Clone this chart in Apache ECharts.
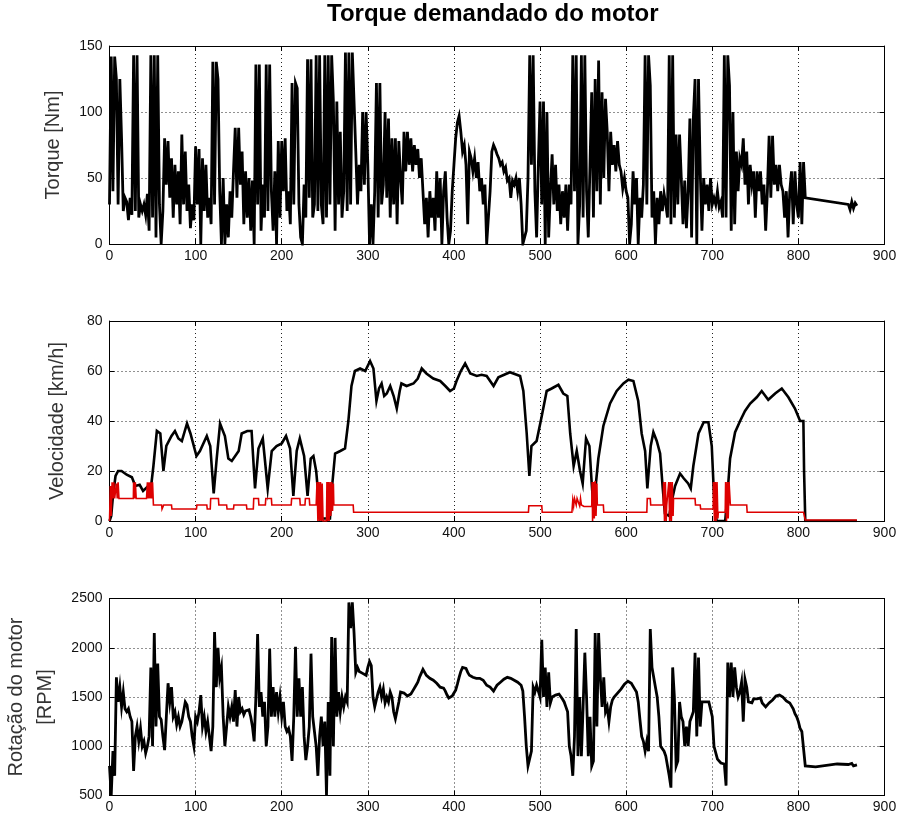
<!DOCTYPE html>
<html>
<head>
<meta charset="utf-8">
<script src="https://cdn.jsdelivr.net/npm/echarts@6.0.0/dist/echarts.min.js"></script>
<style>
html,body{margin:0;padding:0;background:#fff;}
#c{width:900px;height:820px;}
</style>
</head>
<body>
<div id="c"></div>
<script>
// ---------------- DATA ----------------
const STEP = 2; // seconds between samples of the main torque / rpm records
const xTicks = [0, 100, 200, 300, 400, 500, 600, 700, 800, 900];
const torqueTicks = [0, 50, 100, 150];
const velTicks = [0, 20, 40, 60, 80];
const rpmTicks = [500, 1000, 1500, 2000, 2500];

// Torque [Nm], t = 0..808 s every 2 s
const torqueMain = [
  30,142,40,142,125,30,125,80,25,35,
  32,18,35,22,143,25,143,20,30,25,
  30,22,38,10,143,20,143,5,143,30,
  0,25,80,45,78,35,65,20,60,30,
  55,15,83,30,70,25,45,12,30,18,
  74,30,72,0,65,25,60,20,35,15,
  138,30,138,125,40,0,50,0,30,5,
  40,20,55,88,35,88,45,70,15,55,
  20,50,10,48,0,136,30,136,10,45,
  20,136,25,136,40,10,55,0,78,20,
  78,40,80,25,40,15,122,30,122,118,
  30,5,0,45,20,140,35,140,20,30,
  143,25,143,30,15,143,20,143,30,143,
  108,10,108,30,85,20,40,145,25,145,
  30,145,145,70,30,60,40,100,45,100,
  60,0,30,0,40,122,20,122,30,45,
  100,35,95,20,80,30,80,15,78,50,
  30,85,55,85,60,80,55,75,60,72,
  50,65,40,15,35,5,40,20,35,10,
  55,20,50,0,40,55,20,0,10,40,
  60,80,92,97,85,70,75,60,15,70,
  65,55,65,50,62,40,50,30,45,0,
  0,40,70,75,72,68,65,60,62,55,
  58,48,50,35,48,45,50,40,50,30,
  0,0,10,50,143,60,143,40,5,60,
  108,30,108,0,100,5,40,68,30,60,
  25,45,15,40,20,45,10,45,30,143,
  40,143,0,30,143,20,143,40,5,60,
  115,20,125,40,139,30,115,50,110,85,
  40,85,60,75,55,78,60,55,42,50,
  40,35,0,15,55,30,50,0,35,20,
  45,143,30,143,120,20,40,0,35,15,
  40,25,38,30,20,143,15,143,20,83,
  30,83,50,15,48,12,40,95,5,95,
  125,0,125,55,10,50,30,45,25,50,
  30,35,30,40,28,32,20,143,20,143,
  120,10,100,15,70,40,65,60,80,45,
  70,30,60,45,55,20,55,40,55,30,
  45,10,40,82,35,82,45,60,40,60,
  45,40,20,40,5,40,55,15,55,30,
  20,62,15,62,35
];
const torqueTailT = [810, 858, 860, 862, 864, 866, 868];
const torqueTailV = [35, 30, 26, 32, 27, 31, 29];

// Velocity [km/h] (black) as [t, v]
const velocity = [
  [0,0],[2,2],[4,10],[7,18],[10,20],[14,20],[20,18.5],[26,17.5],[30,14],[35,14.5],
  [39,12],[45,14],[48,13],[51,22],[55,36],[59,35],[62.6,20],[66,30],[72,34],[76,36],
  [80,33],[84,32],[90,39],[94,35],[101,26],[105,28],[113,34],[117,30],[121,11],[124.5,25],
  [128.4,39],[134,34],[138,25],[142,24],[150,28],[153.5,35],[160,36],[165,36],[169,13],[173,29],
  [178,33],[180.6,24],[183.7,13],[188.4,28],[194,30],[200,31],[205,34],[209.7,29],[213.5,10],[217.4,28],
  [221,33],[226,26],[230,10],[233.7,25],[236.8,26],[240,20],[242.6,10],[244.5,1],[256,1],[258,12],
  [262,27],[268,28],[273.5,29],[277.4,40],[281,54],[285,60],[291,61],[297,60],[302.6,64],[306.5,61],
  [310,48],[313,53],[316,55],[319,50],[322,51],[326,54],[330,50],[333.6,45],[337,52],[339,55],
  [345,54],[353,55],[358,57],[362.6,61],[368,59],[376,57],[384,56],[390,54],[395.5,52],[400,53],
  [403,56],[408,60],[413,63],[419,59],[426.5,58],[432,58.5],[438,58],[446,54],[451.6,57.5],[465,59.5],
  [476.8,58],[480.6,52],[484.5,35],[487.6,18],[490,30],[496,32],[502,42],[507.7,52],[513.5,53],[521.3,54.5],
  [527,51],[531.7,50],[535,35],[539,22],[542.6,28],[546.4,20],[549.5,15],[553.4,33],[557.3,30],[560,15],
  [562,5],[564,12],[567.7,25],[573.5,38],[581.3,47],[589,52],[596.8,55],[602.6,56.5],[608.4,56],[614,48],
  [618,35],[622,28],[624.6,13],[628.5,30],[631.6,35.5],[635.5,32],[639.4,27],[642.5,13],[645,3],[650,2],
  [653,8],[656.8,14],[662.6,19],[667,17],[672,15],[675,13],[678,22],[684,35],[690,39.5],[695.5,39.5],
  [699.4,30],[702,10],[705,0],[715,0],[717.5,10],[720.7,25],[726.5,35.5],[732.3,40],[738,44],[744,47],
  [751.6,49.5],[757.4,52],[765,48.5],[773,51],[780.7,53],[788.4,49.5],[796,45],[802,40],[805.8,40],[806.6,20],
  [808,0],[868,0]
];

// Second trace (red) as [t, v]
const redTrace = [
  [0,0],[1,14],[2,2],[3,15.5],[4,9],[5,15.5],[6,9],[8,15],[9,9],[10,15.5],[11,9],
  [27.7,9],[28,15.5],[29,9],[30,15.5],[31,9],[43,9],[44,15.5],[45,9],[46,15.5],[47,9],[48,15.5],[49,9],[50,15.5],[51,6.4],
  [60.6,6.4],[61,4.8],[62.6,4.8],[63,6.4],[72,6.4],[72.5,4.8],[101,4.8],[101.5,6.4],[113,6.4],[113.5,4.8],
  [117,4.8],[117.5,9],[126.5,9],[127,6.4],[136,6.4],[136.5,4.8],[144,4.8],[144.5,6.4],[159,6.4],[159.5,4.8],
  [167,4.8],[167.5,9],[173,9],[173.5,6.4],[181,6.4],[181.5,9],[188,9],[188.5,6.4],[211,6.4],[211.5,9],
  [221,9],[221.5,6.4],[227,6.4],[227.5,9],[232,9],[232.5,6.4],[240,6.4],
  [241,15.6],[242,0],[243,15.6],[244,0],[245,15.6],[246,0],[247,15],[248,0],[252,0],
  [252.5,15.6],[253,0],[254,15.6],[255,0],[256,15.6],[257,2],[258,15.6],[259,4],[260,15],[260.5,6.4],
  [283,6.4],[283.5,3.5],[486.5,3.5],[487,6.1],[502,6.1],[502.5,3.5],[537,3.5],
  [538,8.4],[539,6],[540,9],[542,6.4],[543,9],[545,8.4],[546,6],[547,9],[548,6.4],[550,6.4],[551,5.8],[560,5.8],
  [560.5,15.6],[561,0],[562,15.6],[563,1],[564,16],[565,2],[566,15],[566.5,6.4],[573.5,6.4],[574,3.5],
  [624,3.5],[624.5,9],[628,9],[628.5,6.4],[643,6.4],
  [643.5,15.6],[644.5,0],[645.5,15.6],[646.5,0],[647,6],[649,6],[649.5,15.6],[650.5,0],[651.5,15.6],[652.5,0],[653.5,15.6],[654.5,2],
  [655,9],[680,9],[680.5,6.4],[686,6.4],[686.5,4.8],[701,4.8],
  [701.5,15.6],[702.5,0],[703.5,15.6],[704.5,0],[705.5,15.6],[706.5,1],[707,3.5],[715,3.5],
  [715.5,15.6],[716.5,0],[717.5,15.6],[718.5,1],[719.5,15.6],[721,6.4],[740,6.4],[740.5,3.5],
  [806,3.5],[808,0.4],[868,0.4]
];

// Engine speed [RPM], t = 0..808 s every 2 s
const rpmMain = [
  800,500,950,700,1700,1450,1600,1400,1550,1380,
  1350,1380,1300,1250,750,1100,1200,1050,1180,1000,
  1050,930,1000,1100,1800,1000,2150,1200,1840,1300,
  1270,1100,960,1300,1640,1450,1600,1300,1350,1220,
  1300,1200,1250,1350,1450,1420,1300,1250,1100,1000,
  1300,1250,1350,1520,1200,1300,1150,1250,1100,950,
  1200,2160,1600,2000,1700,1800,1300,1000,1200,1400,
  1300,1400,1250,1570,1200,1500,1350,1380,1320,1360,
  1350,1370,1300,1200,1050,1500,2140,1400,1550,1300,
  1450,1000,1200,1990,1300,1600,1300,1550,1350,1500,
  1300,1450,1200,1150,1180,1100,850,1300,2010,1300,
  1690,1300,1600,1100,860,1000,1200,1940,1300,1150,
  1000,700,1100,1300,1000,1250,500,1450,700,2110,
  1000,2100,1300,1550,1350,1500,1400,1500,1450,2460,
  2200,2460,2150,1750,1800,1760,1780,1740,1760,1720,
  1800,1860,1820,1500,1400,1420,1550,1600,1500,1580,
  1440,1500,1450,1550,1500,1350,1280,1300,1450,1550,
  1560,1540,1530,1510,1520,1530,1560,1580,1620,1650,
  1700,1740,1780,1760,1720,1700,1690,1680,1670,1660,
  1640,1620,1600,1610,1590,1560,1520,1490,1480,1510,
  1540,1570,1630,1700,1760,1800,1814,1790,1750,1720,
  1720,1700,1710,1690,1700,1690,1680,1670,1650,1620,
  1600,1600,1580,1560,1590,1620,1640,1650,1670,1680,
  1690,1700,1700,1690,1680,1670,1660,1650,1640,1620,
  1560,1300,1000,800,780,950,1600,1550,1620,1600,
  1500,2080,1500,1800,1400,1750,1440,1500,1480,1520,
  1540,1530,1510,1480,1450,1400,1350,1000,900,700,
  1100,2190,900,1500,900,1400,1950,1500,900,1300,
  800,850,2150,1200,2150,1700,1400,1700,1350,1400,
  1250,1400,1470,1500,1520,1540,1560,1580,1600,1630,
  1650,1660,1650,1640,1620,1580,1550,1450,1270,1100,
  1050,950,1050,950,2190,1800,1820,1600,1500,1300,
  1000,980,950,900,880,700,580,1800,1500,800,
  850,1450,1300,1250,1000,1200,1000,1250,1300,1350,
  1950,1100,1900,1200,1450,1460,1450,1440,1450,1430,
  1300,1000,1000,870,850,830,850,820,600,1850,
  1500,1850,1500,1800,1600,1500,1550,1650,1250,1680,
  1600,1450,1460,1440,1480,1460,1480,1500,1490,1440,
  1420,1400,1410,1440,1460,1470,1490,1510,1520,1520,
  1520,1500,1480,1460,1450,1440,1420,1380,1330,1300,
  1250,1180,1150,1140,800
];
const rpmTailT = [810, 820, 845, 858, 860, 862, 864, 866, 868];
const rpmTailV = [790, 790, 820, 815, 800, 825, 800, 820, 810];

const titleText = 'Torque demandado do motor';
const yNames = ['Torque [Nm]', 'Velocidade [km/h]', 'Rotação do motor\n[RPM]'];

// ---------------- BUILD ----------------
function regular(vals, tailT, tailV) {
  const out = vals.map((v, i) => [i * STEP, v]);
  tailT.forEach((t, i) => out.push([t, tailV[i]]));
  return out;
}
const torqueData = regular(torqueMain, torqueTailT, torqueTailV);
const rpmData = regular(rpmMain, rpmTailT, rpmTailV);

const FONT = '"Liberation Sans", Arial, Helvetica, sans-serif';
const grids = [
  { left: 109.5, top: 46, width: 775, height: 198 },
  { left: 109.5, top: 321, width: 775, height: 200 },
  { left: 109.5, top: 598.5, width: 775, height: 197 }
];
const yRanges = [
  { ticks: torqueTicks, gap: 44, lh: 24 },
  { ticks: velTicks, gap: 40, lh: 24 },
  { ticks: rpmTicks, gap: 50, lh: 29 }
];

const axisLine = { show: true, onZero: false, lineStyle: { color: '#000', width: 1 } };
const tick = { show: true, inside: true, length: 5, lineStyle: { color: '#000', width: 1 } };
const dotted = { show: true, lineStyle: { color: '#222', width: 1, type: [1, 3] } };
const lbl = { fontFamily: FONT, fontSize: 14, color: '#111', formatter: v => String(v) };

const xAxis = [], yAxis = [];
grids.forEach((g, gi) => {
  const xmin = xTicks[0], xmax = xTicks[xTicks.length - 1];
  xAxis.push({
    type: 'value', gridIndex: gi, position: 'bottom', min: xmin, max: xmax,
    interval: xTicks[1] - xTicks[0],
    axisLine, axisTick: tick, splitLine: dotted,
    axisLabel: Object.assign({ margin: 5 }, lbl)
  });
  xAxis.push({
    type: 'value', gridIndex: gi, position: 'top', min: xmin, max: xmax,
    interval: xTicks[1] - xTicks[0],
    axisLine, axisTick: tick, splitLine: { show: false }, axisLabel: { show: false }
  });
  const yt = yRanges[gi].ticks;
  const ymin = yt[0], ymax = yt[yt.length - 1], yint = yt[1] - yt[0];
  yAxis.push({
    type: 'value', gridIndex: gi, position: 'left', min: ymin, max: ymax, interval: yint,
    axisLine, axisTick: tick, splitLine: dotted,
    axisLabel: Object.assign({ margin: 7 }, lbl),
    name: yNames[gi], nameLocation: 'middle', nameRotate: 90, nameGap: yRanges[gi].gap,
    nameTextStyle: { fontFamily: FONT, fontSize: 20, color: '#333', lineHeight: yRanges[gi].lh }
  });
  yAxis.push({
    type: 'value', gridIndex: gi, position: 'right', min: ymin, max: ymax, interval: yint,
    axisLine, axisTick: tick, splitLine: { show: false }, axisLabel: { show: false }
  });
});

function lineSeries(data, xi, yi, color, width) {
  return {
    type: 'line', data, xAxisIndex: xi, yAxisIndex: yi,
    showSymbol: false, symbol: 'none',
    lineStyle: { color, width, join: 'miter' }, itemStyle: { color },
    animation: false, silent: true, clip: true
  };
}

const option = {
  backgroundColor: '#fff',
  animation: false,
  title: {
    text: titleText, left: 327, top: 0, padding: [2, 0, 0, 0],
    textStyle: { fontFamily: FONT, fontSize: 24, fontWeight: 'bold', color: '#000' }
  },
  grid: grids.map(g => Object.assign({ containLabel: false, outerBoundsMode: 'none', show: false }, g)),
  xAxis, yAxis,
  series: [
    lineSeries(torqueData, 0, 0, '#000', 2.8),
    lineSeries(velocity, 2, 2, '#000', 2.6),
    lineSeries(redTrace, 2, 2, '#dd0000', 1.6),
    lineSeries(rpmData, 4, 4, '#000', 2.8)
  ]
};

const chart = echarts.init(document.getElementById('c'), null, { renderer: 'canvas' });
chart.setOption(option);
</script>
</body>
</html>
